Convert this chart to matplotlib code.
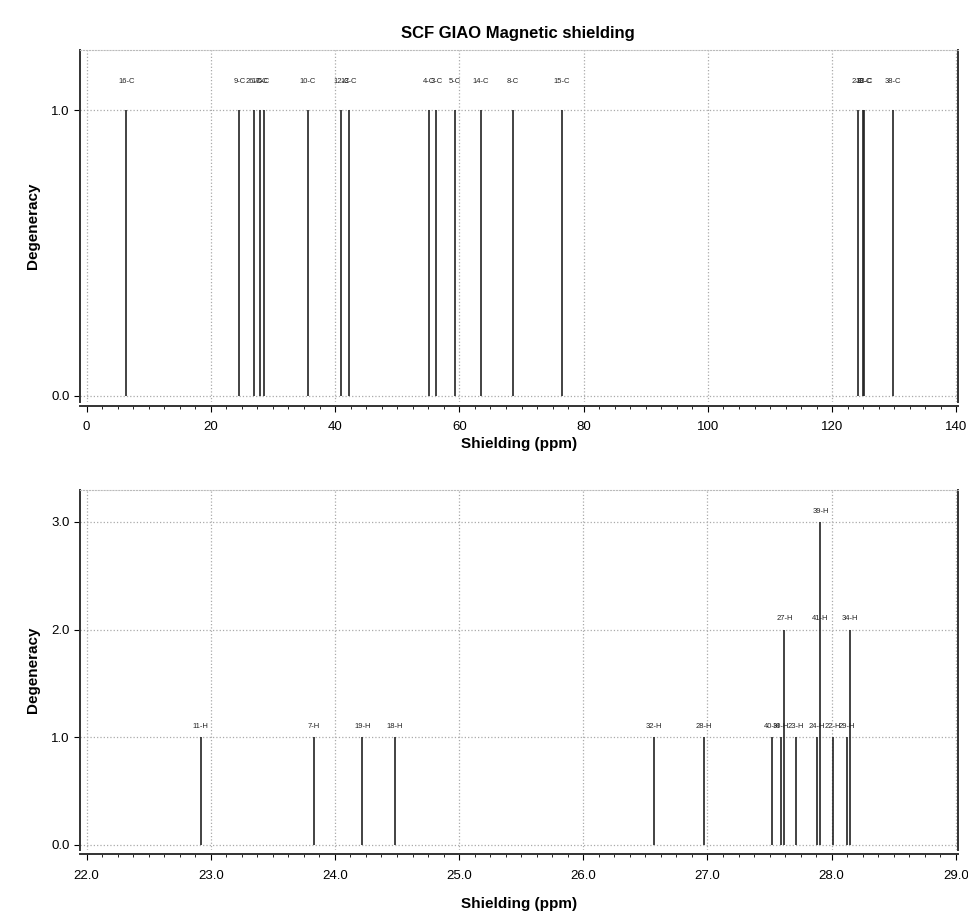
import matplotlib
matplotlib.use('Agg')
import matplotlib.pyplot as plt
from matplotlib.ticker import AutoMinorLocator, FormatStrFormatter

plt.rcParams['font.family'] = ['Liberation Sans', 'DejaVu Sans']

# carbon shieldings (ppm), degeneracy and label per level
c_shift = [6.4, 24.6, 27.0, 27.9, 28.5, 35.6, 41.0, 42.2, 55.1, 56.3,
           59.3, 63.5, 68.6, 76.5, 124.1, 125.0, 125.2, 129.8]
c_degen = [1] * 18
c_labels = [['16-C'], ['9-C'], ['26-C'], ['17-C'], ['6-C'], ['10-C'],
            ['12-C'], ['13-C'], ['4-C'], ['3-C'], ['5-C'], ['14-C'],
            ['8-C'], ['15-C'], ['2-C'], ['18-C'], ['33-C'], ['38-C']]

# hydrogen shieldings (ppm)
h_shift = [22.92, 23.83, 24.22, 24.48, 26.57, 26.97, 27.52, 27.59, 27.62,
           27.71, 27.88, 27.91, 28.01, 28.12, 28.15]
h_degen = [1, 1, 1, 1, 1, 1, 1, 1, 2, 1, 1, 3, 1, 1, 2]
h_labels = [['11-H'], ['7-H'], ['19-H'], ['18-H'], ['32-H'], ['28-H'],
            ['40-H'], ['30-H'], ['', '27-H'], ['23-H'], ['24-H'],
            ['', '41-H', '39-H'], ['22-H'], ['29-H'], ['', '34-H']]


def stick_panel(ax, shifts, degens, labels, xlim, xticks, xfmt, ylim, yticks,
                xpad):
    ax.vlines(shifts, 0, degens, color='#222222', lw=1.2, zorder=3)
    for x, labs in zip(shifts, labels):
        for k, lab in enumerate(labs):
            if lab:
                ax.text(x, k + 1 + 0.1, lab, ha='center', va='center',
                        fontsize=5.5, color='#222222')
    ax.set_xlim(*xlim)
    ax.set_ylim(*ylim)
    ax.set_xticks(xticks)
    ax.set_yticks(yticks)
    ax.xaxis.set_major_formatter(FormatStrFormatter(xfmt))
    ax.yaxis.set_major_formatter(FormatStrFormatter('%.1f'))
    ax.xaxis.set_minor_locator(AutoMinorLocator(8))
    ax.grid(True, which='major', color='#aaaaaa', ls=':', lw=0.9)
    ax.tick_params(labelsize=9.5, length=4, direction='out')
    ax.tick_params(axis='x', pad=7)
    ax.tick_params(which='minor', length=2.5)
    for s in ['left', 'right', 'bottom']:
        ax.spines[s].set_color('#333333')
        ax.spines[s].set_linewidth(1.4)
    ax.spines['top'].set_color('#bbbbbb')
    ax.spines['top'].set_linestyle(':')
    ax.spines['bottom'].set_position(('outward', 3))
    ax.set_xlabel('Shielding (ppm)', fontsize=11, fontweight='bold',
                  labelpad=xpad)
    ax.set_ylabel('Degeneracy', fontsize=11, fontweight='bold', labelpad=8)


fig = plt.figure(figsize=(9.68, 9.17), dpi=100)
ax1 = fig.add_axes([0.083, 0.562, 0.907, 0.383])
ax2 = fig.add_axes([0.083, 0.073, 0.907, 0.393])

stick_panel(ax1, c_shift, c_degen, c_labels, (-1.0, 140.3),
            range(0, 141, 20), '%d', (-0.02, 1.21), [0.0, 1.0], 3)
stick_panel(ax2, h_shift, h_degen, h_labels, (21.95, 29.02),
            range(22, 30), '%.1f', (-0.05, 3.3), [0.0, 1.0, 2.0, 3.0], 11)

fig.suptitle('SCF GIAO Magnetic shielding', x=0.535, y=0.972,
             fontsize=12, fontweight='bold')

fig.savefig('out.png', dpi=100)
